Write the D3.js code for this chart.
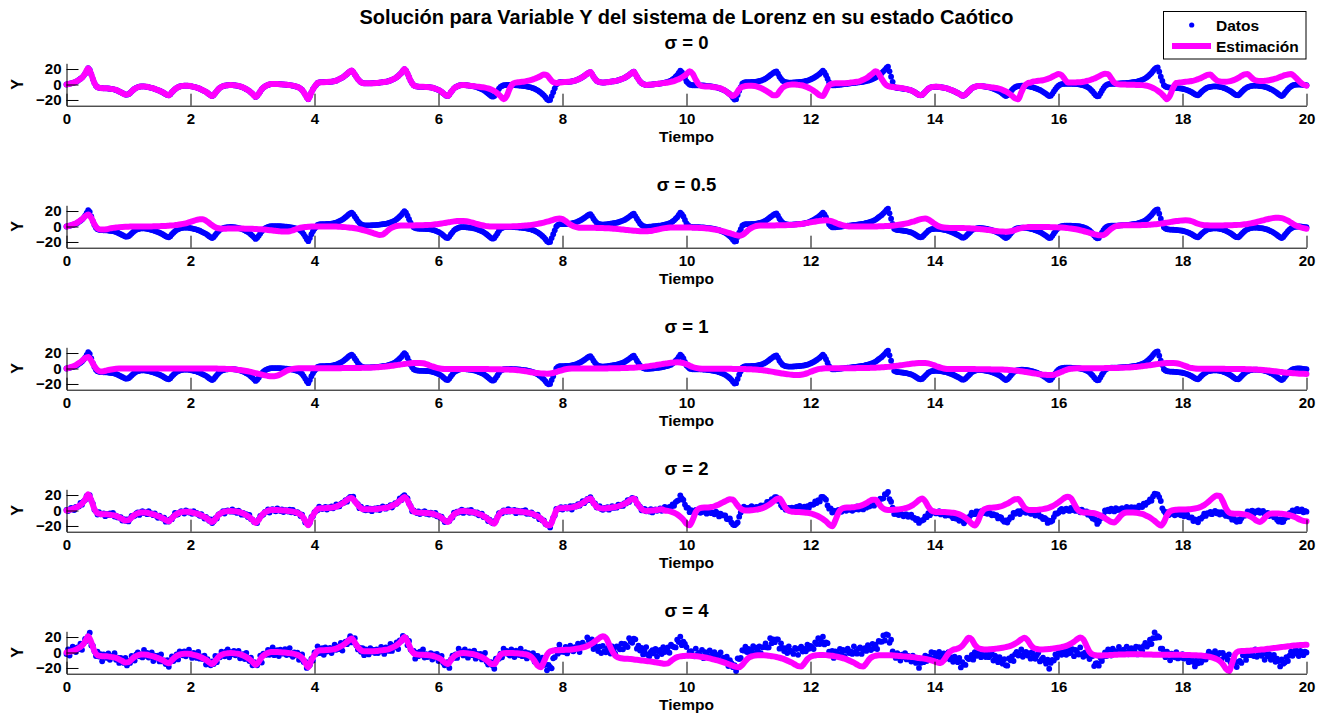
<!DOCTYPE html>
<html>
<head>
<meta charset="utf-8">
<script src="https://cdn.jsdelivr.net/npm/d3@7"></script>
<style>
  body { margin: 0; background: #fff; }
  svg { display: block; }
  text { font-family: "Liberation Sans", Arial, Helvetica, sans-serif; font-weight: bold; fill: #000; }
</style>
</head>
<body>
<svg id="fig" width="1330" height="718"></svg>
<script>
// Datos: t = 0 .. 20 con paso 0.025 (801 muestras); estimaciones con paso 0.05 (401 muestras)
const pasoDatos = 0.025, nDatos = 801;
const pasoEst = 0.05, nEst = 401;

// Variable Y de Lorenz sin ruido, una fila por unidad de tiempo
const datosY = [
  0,0.5,1,1.5,2,2.7,3.5,4.6,6,7.4,9,11.2,14,17.5,21,19,13,7,2,-1.5,-3.5,-4.2,-4.5,-4.8,-5,-5,-5,-5.2,-5.5,-5.7,-6,-6.5,-7,-8,-9,-10,-11,-12,-13,-13.2,
  -12.5,-11,-9,-7,-5.5,-4.3,-3.5,-2.9,-2.5,-2.4,-2.5,-2.7,-3,-3.5,-4,-4.5,-5,-5.7,-6.5,-7.2,-8,-9,-10,-11.2,-12.5,-13.5,-14,-12.5,-10,-8,-6,-4.6,-3.5,-2.6,-2,-1.7,-1.5,-1.4,-1.5,-1.7,
  -2,-2.5,-3,-3.5,-4,-4.7,-5.5,-6.5,-7.5,-8.5,-9.5,-11,-12.5,-14,-15,-13.5,-11,-8.5,-6,-4.3,-3,-2.2,-1.5,-1.2,-1,-0.7,-0.5,-0.7,-1,-1.2,-1.5,-2,-2.5,-3.2,-4,-5,-6,-7.2,-8.5,-10.2,
  -12,-14,-16,-14.5,-12,-9,-6,-4,-2.5,-1.4,-0.5,0.1,0.5,0.5,0.5,0.5,0.5,0.4,0.3,0.2,0,-0.1,-0.3,-0.5,-0.8,-1.1,-1.5,-2,-2.5,-3.2,-4,-5.3,-7,-9.8,-13,-16.5,-19,-15,-10,-6,
  -3,-0.5,2,2.6,3,3,3,3.1,3.2,3.3,3.5,3.7,4,4.5,5,6,7,8,9,10.5,12,13.7,15.5,17,18,16,13,10,7,4.8,3,2,1.5,1.5,1.5,1.5,1.5,1.6,1.7,1.8,
  2,2.2,2.5,2.7,3,3.2,3.5,4,4.5,5.2,6,7,8,9.5,11,13,15,17.5,20,18,14,9.5,5,1.5,-1,-2,-2.5,-2.8,-3,-3,-3,-3.1,-3.2,-3.3,-3.5,-3.8,-4.2,-4.8,-5.5,-6.2,
  -7,-8.2,-9.5,-11.2,-13,-14.5,-15,-13,-10,-7.5,-5,-3.5,-2.5,-1.5,-1,-0.8,-0.8,-0.9,-1,-1.2,-1.5,-1.7,-2,-2.5,-3,-3.7,-4.5,-5.2,-6,-7.2,-8.5,-10,-11.5,-13.3,-15,-15.8,-15,-12,-9,-5.5,
  -3,-1.8,-1,-0.7,-0.5,-0.5,-0.5,-0.6,-0.7,-0.8,-1,-1.1,-1.3,-1.5,-1.7,-2,-2.2,-2.6,-3,-3.5,-4,-4.7,-5.5,-6.5,-7.5,-9,-10.5,-12.2,-14,-16.5,-19,-20.5,-20,-15,-10,-5,0,2,3,3,
  3,3.1,3.2,3.3,3.5,3.7,4,4.5,5,5.7,6.5,7.5,8.5,9.7,11,12.5,14,15.3,16,13.5,10,7.3,5,3.8,3,2.7,2.5,2.6,2.8,3,3.2,3.6,4,4.2,4.5,5,5.5,6.2,7,7.7,
  8.5,9.7,11,12.5,14,15.5,16.5,13.5,10,7,4,2,0.5,0,-0.5,-0.4,-0.3,-0.1,0,0.3,0.5,0.7,1,1.2,1.5,2,2.5,3,3.5,4.2,5,6.5,8,10,12,15,18,16,13,8.5,
  4,1.8,0,-0.6,-1,-1,-1,-1,-1,-1.1,-1.2,-1.3,-1.5,-1.7,-2,-2.2,-2.5,-2.8,-3.2,-3.6,-4,-4.7,-5.5,-6.2,-7,-8.2,-9.5,-11,-12.5,-14.7,-17,-19.5,-19,-13.5,-8,-3.5,1,2.3,3,3,
  3,3.1,3.2,3.3,3.5,3.7,4,4.5,5,5.7,6.5,7.7,9,10.5,12,13.5,15,16.3,17,14,10,7.3,5,3.8,3,2.7,2.5,2.5,2.5,2.6,2.8,2.9,3,3.2,3.5,3.7,4,4.5,5,5.7,
  6.5,7.5,8.5,9.7,11,12.5,14,16,18,15.5,12,7.5,3,0.5,-1,-1,-1,-0.7,-0.5,-0.2,0,0.2,0.5,0.7,1,1.2,1.5,1.7,2,2.2,2.5,2.7,3,3.2,3.5,4,4.5,5,5.5,6.2,
  7,8,9,10.5,12,13.5,15,17,19,21.5,23,17,10,3.5,-3,-4,-4.5,-4.8,-5,-5.2,-5.5,-5.7,-6,-6.5,-7,-7.7,-8.5,-9.7,-11,-12.3,-13.5,-14,-13.5,-11.5,-9.5,-7.5,-5.5,-4.3,-3.5,-3.2,
  -3,-2.9,-3,-3.2,-3.5,-3.8,-4.2,-4.6,-5,-5.7,-6.5,-7.2,-8,-9,-10,-11,-12,-13.3,-14.5,-14.3,-13,-11,-9,-7,-5,-3.8,-3,-2.4,-2,-1.9,-2,-2.2,-2.5,-2.8,-3.2,-3.6,-4,-4.7,-5.5,-6.2,
  -7,-8,-9,-10.5,-12,-13.7,-15,-14,-12,-9.5,-7,-5,-3.5,-2.6,-2,-1.7,-1.5,-1.6,-1.7,-1.8,-2,-2.5,-3,-3.5,-4,-4.7,-5.5,-6.2,-7,-8.2,-9.5,-10.7,-12,-13.7,-15,-14.5,-12,-9,-6,-3.5,
  -1.5,-0.3,0.5,0.8,1,1,1,1,1,0.9,0.8,0.7,0.5,0.3,0,-0.5,-1,-1.7,-2.5,-3.7,-5,-7,-9,-11.5,-14,-15.3,-15,-11.5,-8,-4.8,-2,-0.5,0.5,0.8,1,1,1,1.1,1.2,1.3,
  1.5,1.6,1.8,1.9,2,2.2,2.5,2.7,3,3.2,3.5,4,4.5,5.2,6,7,8,9.5,11,13,15,17.5,20,21.5,22,16.5,10,4.5,-1,-2.5,-3.5,-3.8,-4,-4.1,-4.2,-4.3,-4.5,-4.7,-5,-5.2,
  -5.5,-6,-6.5,-7.2,-8,-9,-10,-11.2,-12.5,-13.5,-14,-12.3,-10,-8.2,-6.5,-5.2,-4,-3.4,-3,-2.7,-2.5,-2.4,-2.5,-2.7,-3,-3.5,-4,-4.7,-5.5,-6.5,-7.5,-8.7,-10,-11.5,-13,-13.8,-14,-12.3,-10,-8,
  -6,-4.6,-3.5,-2.7,-2,-1.7,-1.5,-1.4,-1.5,-1.7,-2,-2.2,-2.5,-3,-3.5,-4.2,-5,-6,-7,-8.2,-9.5,-11,-12.5,-14,-15,-13.5,-11,-8.5,-6,-4,-2.5,-1.3,-0.5,-0.2,0,0,0,-0.2,-0.5,-0.8,
  -1
];

// Ruido de medición observado en los paneles sigma = 2 y sigma = 4
const ruido2 = [
  0.8,-1.2,0.3,1.9,-0.6,-2.1,1.1,0.2,-0.9,2.4,-1.5,0.6,-0.3,1.4,-2.6,0.9,-0.1,1.7,-1.1,0.4,
  -1.8,2.2,-0.5,0.1,1.2,-2.3,0.7,-0.8,1.6,-0.2,2.8,-1.4,0.5,-1.0,0.0,1.3,-2.0,0.9,-0.4,1.8,
  -1.6,0.2,2.1,-0.7,-1.3,0.6,1.0,-2.8,0.3,1.5,-0.9,0.4,-1.7,2.5,-0.1,0.8,-1.1,1.9,-0.6,-2.2,
  1.2,0.1,-0.5,2.0,-1.9,0.7,-0.3,1.4,-1.2,0.5,3.0,-0.8,-1.5,0.2,1.1,-0.4,-2.4,1.6,0.3,-1.0,
  0.6,-1.7,2.3,-0.2,0.9,-0.6,-1.4,1.8,0.0,-2.0,1.3,0.4,-0.8,2.6,-1.2,-0.3,1.0,-1.9,0.7,0.2,
  -0.5,1.5,-2.5,0.8,1.2,-0.1,-1.0,2.1,-0.7,0.3,-1.6,1.7,0.5,-2.2,0.9,-0.4,1.4,-1.3,2.7,-0.8,
  0.1,-0.9,1.6,-1.8,0.4,2.0,-0.6,-1.2,0.8,-0.2,1.9,-2.7,0.6,1.1,-0.5,-1.5,2.2,0.0,-1.0,1.3,
  -2.1,0.7,0.3,-0.8,1.8,-1.3,2.4,-0.4,-0.9,1.0,0.2,-1.9,1.5,-0.3,-2.4,1.2,0.6,-0.7,1.7,-1.4,
  0.9,-0.2,-1.6,2.3,0.1,-1.1,0.5,1.4,-2.0,0.8,-0.5,1.6,-1.2,0.3,2.9,-0.9,-1.7,0.4,1.1,-0.6,
  1.5,-2.3,0.2,0.7,-1.4,1.9,-0.8,-0.1,1.2,-1.8,2.0,0.5,-0.4,-1.3,1.7,-0.6,0.9,-2.5,0.4,1.0,
  -0.7,1.3,-1.9,0.6,2.2,-0.3,-1.2,0.8,-0.5,1.6,-2.2,0.2,1.4,-0.9,0.0,2.5,-1.6,0.7,-0.2,-1.1,
  1.8,-0.4,0.9,-2.6,1.0,0.3,-0.8,1.5,-1.5,0.4,-0.1,2.1,-1.0,0.6,-1.8,1.1,0.2,-0.6,2.4,-1.3,
  0.5,-1.0,1.7,-0.2,-2.0,0.8,1.3,-0.7,0.1,-1.5,2.3,-0.5,0.9,-1.2,0.4,1.8,-2.3,0.6,-0.3,1.2,
  -1.4,2.6,-0.6,0.3,-0.9,1.4,-1.7,0.5,2.0,-1.1,-0.2,0.8,-2.1,1.5,0.1,-0.7,1.1,-1.4,0.7,2.1,
  -0.3,-1.8,1.0,0.4,-1.2,2.2,-0.9,0.6,-0.4,1.7,-2.4,0.9,0.2,-1.0,1.3,-0.5,2.6,-1.6,0.3,-0.8,
  1.6,-0.1,-1.3,0.9,2.0,-2.2,0.4,-0.6,1.2,-1.0,0.7,1.5,-1.9,0.0,0.8,-1.4,2.2,-0.3,-0.9,1.4,
  -1.7,0.5,1.1,-0.8,-0.2,1.9,-2.8,1.0,0.3,-0.5,1.6,-1.2,0.6,2.3,-1.5,-0.1,0.9,-2.0,1.3,0.2,
  -0.6,1.8,-1.1,0.4,2.5,-0.7,-1.6,0.8,-0.3,1.2,-2.1,0.1,1.7,-0.9,0.5,-1.3,2.0,-0.4,0.7,-1.8,
  1.1,-0.5,2.4,-1.4,0.2,0.9,-2.3,1.4,-0.8,0.3,1.0,-1.7,-0.2,2.1,-0.6,0.6,-1.0,1.8,-2.5,0.4,
  0.8,-1.1,0.1,1.5,-1.9,0.7,2.2,-0.4,-1.2,0.5,-0.7,1.3,-2.0,0.9,0.4,-1.5,1.6,-0.2,0.6,-0.9,
  -0.4,1.6,-2.2,0.9,0.2,-1.3,1.8,-0.7,2.5,-1.9,0.3,-0.6,1.2,-2.4,0.8,1.4,-1.0,0.1,-1.7,2.0,
  0.6,-2.9,1.3,-0.2,0.7,1.9,-1.5,-0.4,2.2,-0.8,-1.2,0.5,1.7,-2.0,0.0,0.9,-0.5,2.6,-1.3,0.4,
  -1.1,0.8,2.3,-1.6,-0.3,1.0,-2.5,0.6,1.5,-0.9,0.2,-1.8,2.1,-0.1,-0.7,1.3,-2.2,0.9,0.4,-1.4,
  2.4,-0.6,-1.0,1.8,-1.9,0.3,0.7,-2.7,1.1,0.5,-0.4,1.6,-1.2,2.9,-0.8,-0.2,1.0,-1.5,0.6,-2.1,
  1.2,0.0,-0.9,2.0,-1.4,0.8,-2.3,1.5,-0.3,0.4,1.9,-1.0,-0.6,2.3,-1.7,0.7,0.1,-2.6,1.4,-0.5,
  -1.6,2.1,0.3,-1.1,0.9,-0.2,1.6,-2.0,0.5,-0.7,2.7,-1.4,0.2,1.1,-2.1,0.6,-0.9,1.8,-0.3,1.0,
  0.7,-1.8,1.4,-0.5,-2.4,1.9,0.1,-1.2,2.0,-0.6,0.9,-2.2,1.3,0.3,-1.5,2.4,-0.4,-1.0,1.7,-0.1,
  -2.0,0.5,1.1,-1.7,0.4,2.2,-0.8,0.0,-1.3,1.6,-2.6,0.9,0.6,-0.3,1.9,-1.1,2.1,-1.8,0.2,0.8,
  1.5,-0.9,-0.2,2.5,-1.6,0.3,1.2,-2.1,0.7,-0.5,1.4,-0.1,-1.9,2.2,-0.6,0.4,-1.4,1.0,2.0,-2.3,
  -0.3,1.7,-1.2,0.1,2.3,-0.9,-1.7,1.2,0.5,-2.5,1.0,0.3,-0.8,1.6,-1.1,2.6,-0.2,-1.6,0.9,0.0,
  1.1,-2.2,0.6,1.5,-0.4,-1.0,2.1,-1.5,0.3,0.8,-2.0,1.8,-0.7,0.2,1.3,-2.8,0.9,-0.3,1.6,-1.2,
  0.4,2.0,-1.3,-0.6,1.0,-1.9,0.5,2.4,-0.9,0.1,-1.5,1.1,0.7,-2.3,1.9,-0.2,-1.1,0.6,2.3,-0.8,
  -1.4,0.9,1.6,-2.1,0.0,1.3,-0.6,-1.6,2.5,-0.4,0.8,-1.2,1.5,-0.1,-2.4,1.7,0.3,-0.9,1.2,-1.7,
  2.1,-0.5,-1.4,0.7,1.8,-2.0,0.4,1.0,-0.8,-1.3,2.2,-0.3,0.6,-1.8,1.4,0.2,-2.2,1.9,-0.6,0.5,
  -0.9,1.3,0.1,-1.5,2.6,-0.7,-0.2,1.6,-2.1,0.8,0.3,-1.1,1.9,-0.4,-1.6,2.0,-0.8,0.5,-0.1,1.4,
  -2.5,0.6,1.8,-0.3,-1.2,0.9,2.3,-1.7,0.2,-0.6,1.5,-2.3,0.8,1.1,-0.5,-1.9,2.4,-0.2,0.7,-1.0,
  1.6,-1.4,0.3,2.1,-0.8,-0.1,1.2,-2.5,1.0,0.4,-1.3,1.7,-0.6,0.0,2.3,-1.8,0.5,-0.7,1.3,-2.0,
  0.2,1.9,-1.1,0.6,-2.2,1.4,0.8,-0.4,-1.5,2.7,-0.3,0.9,-1.9,1.2,0.4,-0.9,2.0,-1.6,0.1,1.1,
  -0.7,-1.6,2.2,-0.2,0.9,1.5,-2.4,0.3,-0.5,1.8,-1.0,0.6,2.1,-1.4,-0.3,1.0,-2.1,0.7,1.6,-0.6,
  1.0,-0.8,-1.7,2.4,0.1,-1.2,0.7,1.9,-2.3,0.5,-0.2,1.3,-1.5,0.8,2.2,-0.9,-0.4,1.5,-1.8,0.3,
  -0.5
];
const ruido4 = [
  -2,3.5,-5,1.5,5.5,-1,-3,2,-1.5,4,-5.5,0.5,3.5,-2.5,0,6.5,-4,2,-0.5,-3,
  4.5,-1,2.5,-6.5,2.5,1,-2,4,-4,1,0,5.5,-2.5,1.5,-4.5,3,0.5,-1.5,6,-3.5,
  1.5,-2.5,4.5,-0.5,-5,2,3.5,-2,0,-4,6,-1.5,2.5,-3,1,4.5,-6,1.5,-1,3,
  -3.5,6.5,-1.5,1,-2.5,3.5,-4.5,1.5,5,-3,-0.5,2,-5.5,4,0.5,-2,3,-3.5,2,5.5,
  -1,-4.5,2.5,1,-3,5.5,-2.5,1.5,-1,4.5,-6,2.5,0.5,-2.5,3.5,-1.5,6.5,-4,1,-2,
  4,0,-3.5,2.5,5,-5.5,1,-1.5,3,-2.5,2,4,-5,0,2,-3.5,5.5,-1,-2.5,3.5,
  -4.5,1.5,3,-2,-0.5,5,-7,2.5,1,-1.5,4,-3,1.5,6,-4,0,2.5,-5,3.5,0.5,
  -1.5,4.5,-3,1,6.5,-2,-4,2,-1,3,-5.5,0.5,4.5,-2.5,1.5,-3.5,5,-1,2,-4.5,
  3,-1.5,6,-3.5,0.5,2.5,-6,3.5,-2,1,2.5,-4.5,-0.5,5.5,-1.5,1.5,-2.5,4.5,-6.5,1,
  2,-3,0.5,4,-5,2,5.5,-1,-3,1.5,-2,3.5,-5,2.5,1,-4,4,-0.5,1.5,-2.5,
  2,-3,1,4.5,-1.5,-5,3,0.5,-2.5,6,-4,1.5,-1,3.5,-6.5,2.5,0,4,-3,1,
  -4.5,5.5,-1,0.5,3,-6,2,-2,4,-0.5,7,-3.5,1,-2.5,0,3,-5,2.5,-1,4.5,
  -4,0.5,5,-2,-3.5,1.5,2.5,-7,1,3.5,-2,1,-4.5,6.5,0,2,-3,5,-1.5,-5.5,
  3,0,-1.5,5,-5,2,-1,3.5,-3,1.5,8,-2,-4,0.5,2.5,-1,-6,4,1,-2.5,
  1.5,-4.5,6,-0.5,2.5,-1.5,-3.5,4.5,0,-5,3.5,1,-2,6.5,-3,-1,2.5,-5,2,0.5,
  -1.5,4,-6.5,2,3,0,-2.5,5.5,-2,1,-4,4.5,1.5,-5.5,2.5,-1,3.5,-3.5,7,-2,
  0.5,-2.5,4,-4.5,1,5,-1.5,-3,2,-0.5,5,-7,1.5,3,-1.5,-4,5.5,0,-2.5,3.5,
  -5.5,2,1,-2,4.5,-3.5,6,-1,-2.5,2.5,0.5,-5,4,-1,-6,3,1.5,-2,4.5,-3.5,
  2.5,-0.5,-4,6,0,-3,1.5,3.5,-5,2,-1.5,4,-3,1,7.5,-2.5,-4.5,1,3,-1.5,
  4,-6,0.5,2,-3.5,5,-2,0,3,-4.5,5,1.5,-1,-3.5,4.5,-1.5,2.5,-6.5,1,2.5,
  3,-5.5,1,2.5,-2,-4,6,-1.5,0.5,-3,4.5,-6,2,0,-2.5,5,-3.5,1.5,3.5,-1,
  -4,2,5.5,-3,0.5,-1.5,4,-6.5,2.5,1,-2,3,-5,6,-0.5,-3.5,2,0,4.5,-2.5,
  1.5,-3,-0.5,5,-4.5,2.5,-1,3.5,-6,1,0.5,4,-2.5,-4,6.5,-1.5,2,-3,0,3,
  -5,4.5,1,-2,2.5,-3.5,5.5,0,-1.5,-4.5,3,1.5,-6,2,4,-2.5,0.5,-3,5,-1,
  2,-0.5,-4,3.5,0,6,-3,-1.5,2.5,-5,1,4.5,-2,-0.5,3,-6,2.5,1,-3.5,5,
  -1.5,3,-5.5,1.5,4,-2,0,-3.5,6,-1,-4,2,3.5,-5,0.5,1.5,-2.5,4.5,-0.5,-3,
  4,-2.5,1,-6,3,0.5,-1,5,-3.5,2,-0.5,-4.5,6.5,-2,1.5,-3,3.5,0,-5.5,2.5,
  -0.5,5,-3,2,-1.5,-4,4.5,1,-2.5,3,-6.5,0.5,2.5,-1,5.5,-3.5,0,-2,4,-4.5,
  2.5,0,-2,4,-5,1.5,3,-3.5,-0.5,6,-2.5,1,-4,3.5,0.5,-1.5,5,-6,2,-1,
  -3,4.5,0.5,-1,2,-5.5,3.5,-2,1,4,-4,-0.5,6,-3,1.5,-2.5,0,3,-5,2,
  1,-4.5,3,0,-2.5,5,-1.5,-3,4.5,-0.5,2,-6,1.5,3.5,-2,-1,5.5,-4,0.5,2.5,
  -2,1.5,-5,4,0.5,-3.5,2,6,-4.5,-1,3,0,-2.5,4.5,-6,1,2.5,-1.5,3.5,-3,
  5,-1,-3.5,2,1,-4,4,-2,-0.5,3.5,-5.5,2.5,0,-3,6.5,-1.5,-4.5,1.5,3,-0.5,
  -3.5,2.5,4.5,-6,0,1.5,-2,5,-3,-0.5,2,-4,3.5,1,-5,4,-1.5,0.5,-2.5,6,
  0.5,-3,2,-1.5,5.5,-4.5,1,3,-2,-0.5,4,-6.5,2.5,0,-3.5,1.5,4.5,-2,-1,3.5,
  -4,1,6,-2.5,-1,3,-5,0.5,2,-3.5,4.5,1.5,-6,2.5,-0.5,-2,5,-3,1,-1.5,
  3.5,-2,-0.5,4,-4.5,1,2.5,-1,-5.5,3,0,6,-3,-1.5,2,-4,0.5,4.5,-2.5,1.5,
  -1,4,-3,0.5,2.5,-6,3.5,-0.5,1,-2.5,5,-4,-1,3,0,-5,2,1.5,-3.5,4.5,
  2,-5,0,3.5,-1.5,1,-3,5.5,-4,0.5,2.5,-2,4,-6.5,1.5,-0.5,3,-3.5,0,5,
  -2.5,3,1.5,-4,6,-1,-2,2.5,-5,0,3.5,-3,1,4.5,-1.5,-4.5,2,0.5,-3,2,
  1
];

// Estimaciones del filtro para cada nivel de ruido
const estSigma0 = [
  0,1,2,3.5,6,9,14,21,13,2,-3.5,-4.5,-5,-5,-5.5,-6,-7,-9,-11,-13,
  -12.5,-9,-5.5,-3.5,-2.5,-2.5,-3,-4,-5,-6.5,-8,-10,-12.5,-14,-10,-6,-3.5,-2,-1.5,-1.5,
  -2,-3,-4,-5.5,-7.5,-9.5,-12.5,-15,-11,-6,-3,-1.5,-1,-0.5,-1,-1.5,-2.5,-4,-6,-8.5,
  -12,-16,-12,-6,-2.5,-0.5,0.5,0.5,0.5,0.3,0,-0.3,-0.8,-1.5,-2.5,-4,-7,-13,-19,-10,
  -3,2,3,3,3.2,3.5,4,5,7,9,12,15.5,18,13,7,3,1.5,1.5,1.5,1.7,
  2,2.5,3,3.5,4.5,6,8,11,15,20,14,5,-1,-2.5,-3,-3,-3.2,-3.5,-4.2,-5.5,
  -7,-9.5,-13,-15,-10,-5,-2.5,-1,-0.8,-1,-1.5,-2,-2.5,-3,-3.5,-4,-5,-6.5,-8.5,-11.5,
  -15,-19,-15,-5,1,2.5,3,3.5,4,5,6,7.5,9,11,13,12,7,3,2,2.5,
  3,3.2,3.5,4,5,6.5,8.5,11,14,16,10,5,3,2.5,2.8,3.2,4,4.5,5.5,7,
  8.5,11,14,16.5,10,4,0.5,-0.5,-0.3,0,0.5,1,1.5,2,2.5,3.5,4.5,6,8,10.5,
  13.5,17,14,6,0,-2,-2.5,-2.5,-3,-3.5,-4,-5,-7,-9.5,-12.5,-15,-12,-6,-3,-2,
  -1.5,-1.5,-2,-3,-4.5,-6.5,-9,-11.5,-14,-14,-9,-4,-1.5,-0.5,0,0,-0.5,-1,-2,-3.5,
  -5.5,-8,-11,-14,-15,-8,-1,1,1.5,1.5,1.5,1.7,2,2.5,3,3.5,4.5,6,8,11,
  14,17,14,7,1,-2,-3,-3.5,-4,-4.5,-5,-6,-7,-8.5,-11,-13.5,-13.5,-9.5,-5.5,-3.5,
  -3,-3,-3.5,-4.2,-5,-6.5,-8,-10,-12,-14.5,-13,-9,-5,-3,-2,-2,-2.5,-3,-3.5,-4,
  -4.5,-5.5,-7,-9,-11.5,-14.5,-18,-19,-10,-2,1.5,2.5,4,4.5,5,5.5,6.5,8,10,12,
  13.5,12,7,2.5,2.5,2.5,2.8,3,3.5,4.5,5.5,7,8.5,10.5,12.5,14,13.5,8,2.5,0.5,
  0,0,-0.2,-0.3,-0.4,-0.5,-0.6,-0.8,-1.2,-2,-3.5,-5.5,-8,-11,-15,-19,-14,-4,2,2.5,
  3,3.5,4,4.5,5.5,7,8.5,10.5,12.5,13,9,5.5,4,3.5,3.5,4,5,6.5,8.5,11,
  13,13.5,10,6.5,5,4.5,4.5,5,5.5,6.5,7.5,9,10.5,12,13,13.5,11,7,3,0,
  -1.5
];
const estSigma05 = [
  0,1,2.5,4,6.5,9.5,13,15.5,11,3,-2.5,-4,-4,-3.5,-2.5,-1.8,-1.2,-0.8,-0.5,-0.3,
  -0.2,-0.1,0,0,0,0,0,0.1,0.2,0.3,0.4,0.6,0.8,1.1,1.4,1.8,2.3,3,3.8,4.8,
  6,7.3,8.5,9.5,9.5,7.5,4.5,1.5,-1,-2.3,-2.8,-2.8,-2.7,-2.7,-2.6,-2.6,-2.6,-2.7,-2.8,-2.9,
  -3,-3.2,-3.4,-3.7,-4,-4.4,-4.9,-5.4,-5.9,-6.3,-6.6,-6.6,-6.2,-5,-3.5,-2.2,-1.3,-0.7,-0.3,0,
  0,0.1,0.1,0.1,0.1,0,0,-0.1,-0.3,-0.5,-0.8,-1.2,-1.7,-2.3,-3,-3.9,-4.9,-6,-7.3,-8.7,
  -10,-11,-10.5,-7.5,-4,-1.5,0.2,1,1.3,1.4,1.4,1.4,1.4,1.5,1.6,1.7,1.9,2.1,2.4,2.8,
  3.3,3.9,4.6,5.3,6,6.6,7,7.2,7.2,6.8,6,5,3.8,2.6,1.6,0.8,0.3,0,-0.1,-0.1,
  -0.1,0,0,0.1,0.2,0.4,0.6,0.9,1.2,1.6,2.1,2.7,3.4,4.2,5.1,6.2,7.4,8.7,9.8,10.3,
  9.5,7,4,1.5,-0.3,-1.2,-1.5,-1.6,-1.6,-1.6,-1.7,-1.8,-1.9,-2,-2.2,-2.4,-2.7,-3,-3.4,-3.8,
  -4.2,-4.6,-5,-5.4,-5.7,-6,-6.1,-6.1,-5.9,-5.4,-4.6,-3.7,-2.8,-2.1,-1.6,-1.4,-1.3,-1.3,-1.3,-1.3,
  -1.3,-1.4,-1.5,-1.6,-1.8,-2,-2.3,-2.7,-3.2,-3.8,-4.5,-5.4,-6.4,-7.5,-8.7,-10,-11.2,-11.8,-11,-8,
  -4.5,-1.8,0,1,1.3,1.4,1.4,1.4,1.4,1.5,1.5,1.6,1.7,1.9,2.1,2.4,2.8,3.3,3.9,4.6,
  5.3,6,6.7,7.3,7.8,8,7.6,6.5,5,3.4,2,0.9,0.3,0,-0.1,-0.1,-0.1,0,0,0,
  0,0.1,0.2,0.3,0.5,0.7,1,1.4,1.9,2.5,3.2,4,5,6.2,7.5,8.8,9.8,10.2,9,6.5,
  3.5,1,-0.6,-1.4,-1.7,-1.8,-1.8,-1.8,-1.9,-2,-2.1,-2.3,-2.5,-2.8,-3.1,-3.5,-3.9,-4.4,-4.9,-5.4,
  -5.9,-6.3,-6.6,-6.7,-6.5,-5.8,-4.6,-3.2,-2,-1.2,-0.8,-0.6,-0.6,-0.6,-0.6,-0.6,-0.7,-0.8,-0.9,-1,
  -1.2,-1.4,-1.7,-2.1,-2.6,-3.2,-3.9,-4.8,-5.8,-6.9,-8.1,-9.3,-10.4,-11.2,-11.4,-10,-6.5,-3,-0.5,0.8,
  1.3,1.5,1.5,1.5,1.5,1.6,1.7,1.8,2,2.2,2.5,2.8,3.2,3.7,4.3,5,5.7,6.4,7,7.5,
  7.9,8,7.8,6.8,5.2,3.6,2.4,1.7,1.5,1.4,1.4,1.4,1.4,1.4,1.5,1.6,1.7,1.9,2.1,2.4,
  2.8,3.3,4,4.8,5.8,6.9,8,9.1,10,10.8,11.2,11.3,10.8,9.5,7.5,5,2.5,0.5,-1,-2.2,
  -3
];
const estSigma1 = [
  0,1,2.5,4.5,7,10,13.5,15,10,3,-2,-3.8,-3.5,-2.5,-1.6,-0.9,-0.4,-0.1,0,0.1,
  0.1,0.1,0.1,0.1,0.1,0.1,0.1,0.1,0.1,0.1,0.1,0.1,0.1,0.1,0.1,0.1,0.1,0.1,0.1,0.1,
  0.1,0,0,0,0,0,0,0,-0.1,-0.2,-0.3,-0.4,-0.6,-0.8,-1.1,-1.5,-2,-2.6,-3.3,-4.1,
  -5,-6,-7,-8,-8.9,-9.6,-10,-10,-9.2,-7.5,-5.2,-3,-1.4,-0.5,0,0.2,0.3,0.3,0.3,0.3,
  0.3,0.3,0.3,0.3,0.3,0.4,0.4,0.4,0.4,0.5,0.5,0.5,0.6,0.6,0.7,0.8,0.9,1,1.1,1.3,
  1.5,1.8,2.1,2.5,3,3.5,4.1,4.7,5.3,5.8,6.3,6.7,7,7.2,7.2,6.8,5.8,4.3,2.7,1.3,
  0.3,-0.3,-0.6,-0.7,-0.7,-0.7,-0.7,-0.7,-0.7,-0.7,-0.7,-0.7,-0.7,-0.7,-0.8,-0.8,-0.8,-0.9,-0.9,-1,
  -1.1,-1.2,-1.3,-1.5,-1.7,-2,-2.4,-2.9,-3.5,-4.1,-4.8,-5.4,-5.9,-6.3,-6.6,-6.7,-6.5,-5.8,-4.6,-3.2,
  -2,-1,-0.4,-0.1,0,0,0,0,0,0,0,0.1,0.1,0.1,0.1,0.2,0.2,0.3,0.4,0.5,
  0.6,0.7,0.9,1.1,1.4,1.7,2.1,2.6,3.1,3.7,4.3,5,5.7,6.3,6.9,7.4,7.8,8,7.8,7,
  5.5,3.7,2,0.8,0.1,-0.2,-0.3,-0.3,-0.3,-0.3,-0.3,-0.3,-0.3,-0.4,-0.4,-0.5,-0.5,-0.6,-0.7,-0.8,
  -0.9,-1.1,-1.3,-1.6,-2,-2.5,-3,-3.7,-4.4,-5.1,-5.8,-6.5,-7.1,-7.6,-8,-8.3,-8.4,-8.2,-7.4,-6,
  -4.3,-2.7,-1.4,-0.5,0,0.2,0.3,0.3,0.3,0.3,0.3,0.3,0.3,0.4,0.4,0.5,0.5,0.6,0.7,0.8,
  0.9,1.1,1.3,1.5,1.8,2.1,2.5,3,3.5,4.1,4.7,5.3,5.9,6.4,6.8,7.1,7.2,7.1,6.6,5.5,
  4,2.4,1,0,-0.5,-0.7,-0.8,-0.8,-0.8,-0.8,-0.8,-0.8,-0.8,-0.8,-0.9,-0.9,-1,-1,-1.1,-1.2,
  -1.2,-1.3,-1.4,-1.6,-1.8,-2.1,-2.5,-3,-3.5,-4.1,-4.8,-5.5,-6.2,-6.8,-7.4,-7.9,-8.2,-8.4,-8.3,-7.5,
  -6,-4.3,-2.6,-1.2,-0.3,0.1,0.3,0.3,0.3,0.3,0.3,0.3,0.3,0.4,0.4,0.5,0.5,0.6,0.7,0.8,
  0.9,1,1.2,1.4,1.7,2,2.4,2.9,3.4,4,4.6,5.2,5.8,6.3,6.7,7,7.2,7.2,6.9,6,
  4.6,3,1.6,0.6,0,-0.3,-0.4,-0.4,-0.4,-0.4,-0.4,-0.4,-0.4,-0.4,-0.5,-0.5,-0.5,-0.6,-0.6,-0.7,
  -0.8,-0.9,-1,-1.2,-1.4,-1.6,-1.9,-2.3,-2.7,-3.1,-3.6,-4.1,-4.6,-5.1,-5.5,-5.9,-6.2,-6.5,-6.7,-6.9,
  -7
];
const estSigma2 = [
  0,1,2,3.5,6,9,14,21,13,2,-3.5,-4.5,-5,-5,-5.5,-6,-7,-9,-11,-13,
  -12.5,-9,-5.5,-3.5,-2.5,-2.5,-3,-4,-5,-6.5,-8,-10,-12.5,-14,-10,-6,-3.5,-2,-1.5,-1.5,
  -2,-3,-4,-5.5,-7.5,-9.5,-12.5,-15,-11,-6,-3,-1.5,-1,-0.5,-1,-1.5,-2.5,-4,-6,-8.5,
  -12,-16,-12,-6,-2.5,-0.5,0.5,0.5,0.5,0.3,0,-0.3,-0.8,-1.5,-2.5,-4,-7,-13,-19,-10,
  -3,2,3,3,3.2,3.5,4,5,7,9,12,15,16,12,7,3,1.5,1.5,1.5,1.7,
  2,2.5,3,3.5,4.5,6,8,11,14,17.5,13,5,-1,-2.5,-3,-3,-3.2,-3.5,-4.2,-5.5,
  -7,-9.5,-13,-15,-10,-5,-2.5,-1,-0.8,-1,-1.5,-2,-3,-4.5,-6,-8.5,-11.5,-15,-17,-9,
  -3,-1,-0.5,-0.5,-0.7,-1,-1.3,-1.7,-2.2,-3,-4,-5.5,-7.5,-10.5,-14,-19,-19,-10,0,3,
  3,3.2,3.5,4,5,6.5,8.5,11,14,15.5,10,5,3,2.5,2.8,3.2,4,4.5,5.5,7,
  8.5,11,14,15.5,10,4,0.5,-0.5,-0.3,0,0.5,1,1.5,0,-0.5,-1.5,-3,-5,-8,-12,
  -17,-19,-12,-2,2.5,3.5,3.8,4,4.5,5.5,7,9,11,13,14.5,14,9,4,1,0,
  0,0.3,0.8,1.5,2.5,4,6,8.5,11.5,14.5,15.5,10,3,-0.5,-1.5,-1.8,-2,-2.2,-2.5,-3,
  -3.8,-5,-6.5,-8.5,-11,-14,-18,-20.5,-13,-3,2,3.5,3.8,4,4.3,5,6,7.5,9.5,12,
  14,14,9,4,1.5,0.8,0.8,1,1.3,1.8,2.5,3.5,5,7,10,13.5,15.5,12,5,0,
  -1.5,-1.8,-1.8,-2,-2.2,-2.5,-3,-3.8,-5,-7,-9.5,-13,-17,-19.5,-14,-4,1.5,3,3.5,3.8,
  4.2,5,6.2,8,10,12.5,14.5,15,10,4,1.2,0.5,0.5,0.8,1.2,1.8,2.6,3.8,5.5,7.8,
  10.5,13.5,16.5,17.8,16,9,2,-1.5,-2.5,-2.7,-2.8,-3.2,-4,-5.5,-7.5,-10,-12.5,-14.8,-15.5,-12,
  -7,-3.5,-2.5,-2.5,-2.7,-3,-3.5,-4.5,-6,-8,-10.5,-13.5,-17,-19.5,-15,-6,-1,0.5,1,1.2,
  1.3,1.4,1.6,2,2.6,3.5,5,7,10,13.5,17,19.5,19,12,3,-2.5,-4,-4.2,-4.3,-4.5,
  -5,-6,-8,-10.5,-13.5,-14.8,-12,-7.5,-4.5,-3.8,-3.8,-4,-4.3,-4.8,-5.5,-6.5,-8,-10,-12,-13.5,
  -14
];
const estSigma4 = [
  0,1,2,3.5,6,9,14,21,13,2,-3.5,-4.5,-5,-5,-5.5,-6,-7,-9,-11,-13,
  -12.5,-9,-5.5,-3.5,-2.5,-2.5,-3,-4,-5,-6.5,-8,-10,-12.5,-14,-10,-6,-3.5,-2,-1.5,-1.5,
  -2,-3,-4,-5.5,-7.5,-9.5,-12.5,-15,-11,-6,-3,-1.5,-1,-0.5,-1,-1.5,-2.5,-4,-6,-8.5,
  -12,-16,-12,-6,-2.5,-0.5,0.5,0.5,0.5,0.3,0,-0.3,-0.8,-1.5,-2.5,-4,-7,-13,-19,-10,
  -3,2,3,3,3.2,3.5,4,5,7,9,12,15.5,18,13,7,3,1.5,1.5,1.5,1.7,
  2,2.5,3,3.5,4.5,6,8,11,15,20,14,5,-1,-2.5,-3,-3,-3.2,-3.5,-4.2,-5.5,
  -7,-9.5,-13,-15,-10,-5,-2.5,-1,-0.8,-1,-1.5,-2,-3,-4.5,-6,-8.5,-11.5,-15,-15,-9,
  -3,-1,-0.5,-0.5,-0.7,-1,-1.3,-1.7,-2.2,-3.5,-6,-11,-17,-19,-12,-3,1.5,2.5,3,3,
  3.2,3.4,3.6,4,4.5,5.2,6,7,8.5,10.5,13,16,19,21,19,11,2,-4,-6.5,-7.5,
  -8,-8.2,-8.5,-9,-9.5,-10,-10.5,-11,-11.5,-12,-12.5,-13.2,-14,-14.5,-14,-11,-8,-6,-5,-4.5,
  -4.2,-4.2,-4.4,-4.8,-5.2,-5.8,-6.5,-7.3,-8.2,-9.2,-10.3,-11.5,-12.8,-14.2,-15.7,-17.2,-18.5,-19,-16,-11,
  -7,-5,-4,-3.6,-3.5,-3.6,-3.9,-4.4,-5,-5.8,-6.8,-8,-9.5,-11.2,-13.2,-15.5,-17.5,-18,-14,-8.5,
  -5.5,-4,-3.4,-3.2,-3.2,-3.4,-3.8,-4.3,-5,-5.8,-6.8,-8,-9.5,-11.2,-13.2,-15.5,-17.5,-18,-14,-8.5,
  -5.5,-4.2,-3.6,-3.4,-3.4,-3.5,-3.7,-4,-4.3,-4.6,-5,-5.3,-5.6,-6,-6.5,-7,-7.6,-8.3,-9.2,-10.3,
  -11.5,-12.8,-13.5,-10,-4,1,3.5,4.5,6,9,14,19,17,10,6,4.5,4,4,4.2,4.5,
  5,5.5,6.2,7,8,9.5,11.5,14,17,19,16,10,6,4.5,4,4,4.2,4.5,5,5.5,
  6.2,7,8,9.5,11.5,14,17,19.5,17,9,1,-2.5,-3.5,-3.8,-3.8,-3.6,-3.4,-3.2,-3,-2.8,
  -2.6,-2.5,-2.4,-2.3,-2.3,-2.3,-2.3,-2.4,-2.5,-2.6,-2.7,-2.8,-2.9,-3,-3,-3,-3,-3,-3,-3,
  -3.1,-3.2,-3.3,-3.4,-3.6,-3.8,-4,-4.4,-5,-5.8,-7,-8.5,-11,-15,-21,-24,-14,-2,1.5,2,
  2,2.2,2.5,2.8,3.2,3.6,4,4.5,5,5.5,6,6.5,7,7.5,8,8.5,9,9.3,9.6,9.8,
  10
];

// Textos y marcas de los ejes
const titulo = "Solución para Variable Y del sistema de Lorenz en su estado Caótico";
const sigmas = ["0", "0.5", "1", "2", "4"];
const ticksX = [0, 2, 4, 6, 8, 10, 12, 14, 16, 18, 20];
const ticksY = [-20, 0, 20];
const leyenda = ["Datos", "Estimación"];

const tiempoDatos = d3.range(nDatos).map(i => i * pasoDatos);
const tiempoEst = d3.range(nEst).map(i => i * pasoEst);
const datosSigma2 = datosY.map((v, i) => v + ruido2[i]);
const datosSigma4 = datosY.map((v, i) => v + ruido4[i]);

const paneles = [
  { sigma: sigmas[0], datos: datosY,      est: estSigma0 },
  { sigma: sigmas[1], datos: datosY,      est: estSigma05 },
  { sigma: sigmas[2], datos: datosY,      est: estSigma1 },
  { sigma: sigmas[3], datos: datosSigma2, est: estSigma2 },
  { sigma: sigmas[4], datos: datosSigma4, est: estSigma4 }
];

const AZUL = "#0000ff", MAGENTA = "#ff00ff";
const svg = d3.select("#fig");

// Eje horizontal común
const x = d3.scaleLinear().domain([0, 20]).range([66.5, 1306.5]);

// Título general
svg.append("text")
  .attr("x", 686.5).attr("y", 24)
  .attr("text-anchor", "middle")
  .style("font-size", "20px")
  .text(titulo);

const dy = 142;
paneles.forEach((p, k) => {
  const top = 63.3 + k * dy, bottom = 105.7 + k * dy;
  const y = d3.scaleLinear().domain([-27.4, 27.4]).range([bottom, top]);
  const g = svg.append("g");

  // Subtítulo del panel
  g.append("text")
    .attr("x", 686.5).attr("y", 48.5 + k * dy)
    .attr("text-anchor", "middle")
    .style("font-size", "18.5px")
    .text("σ = " + p.sigma);

  // Puntos de datos
  g.append("g").selectAll("circle")
    .data(p.datos)
    .join("circle")
    .attr("cx", (d, i) => x(tiempoDatos[i]))
    .attr("cy", d => y(d))
    .attr("r", 2.9)
    .attr("fill", AZUL);

  // Curva estimada
  const linea = d3.line()
    .x((d, i) => x(tiempoEst[i]))
    .y(d => y(d))
    .curve(d3.curveMonotoneX);
  g.append("path")
    .datum(p.est)
    .attr("d", linea)
    .attr("fill", "none")
    .attr("stroke", MAGENTA)
    .attr("stroke-width", 6)
    .attr("stroke-linejoin", "round")
    .attr("stroke-linecap", "round");

  // Ejes con marcas hacia el interior
  const ejeX = g.append("g")
    .attr("transform", `translate(0,${bottom})`)
    .call(d3.axisBottom(x).tickValues(ticksX).tickFormat(d3.format("d"))
      .tickSizeInner(-12).tickSizeOuter(0).tickPadding(7.5));
  const ejeY = g.append("g")
    .attr("transform", `translate(${x(0)},0)`)
    .call(d3.axisLeft(y).tickValues(ticksY).tickFormat(d3.format("d"))
      .tickSizeInner(-12).tickSizeOuter(0).tickPadding(5));
  [ejeX, ejeY].forEach(e => {
    e.attr("font-family", null).attr("font-size", null);
    e.selectAll("text").style("font-size", "15px");
    e.selectAll("path, line").attr("stroke", "#000").attr("stroke-width", 1);
  });

  // Etiquetas de los ejes
  g.append("text")
    .attr("x", 686.5).attr("y", 142 + k * dy)
    .attr("text-anchor", "middle")
    .style("font-size", "15.5px")
    .text("Tiempo");
  g.append("text")
    .attr("transform", `translate(23,${(top + bottom) / 2}) rotate(-90)`)
    .attr("text-anchor", "middle")
    .style("font-size", "16px")
    .text("Y");
});

// Leyenda
const ley = svg.append("g");
ley.append("rect")
  .attr("x", 1163.5).attr("y", 11.5).attr("width", 142.5).attr("height", 47.5)
  .attr("fill", "#fff").attr("stroke", "#000").attr("stroke-width", 1);
ley.append("circle").attr("cx", 1191.7).attr("cy", 25).attr("r", 2.6).attr("fill", AZUL);
ley.append("line")
  .attr("x1", 1172).attr("x2", 1211).attr("y1", 46).attr("y2", 46)
  .attr("stroke", MAGENTA).attr("stroke-width", 6);
ley.selectAll("text.ley")
  .data(leyenda)
  .join("text")
  .attr("class", "ley")
  .attr("x", 1216)
  .attr("y", (d, i) => 31 + i * 21)
  .style("font-size", "15.5px")
  .text(d => d);
</script>
</body>
</html>
